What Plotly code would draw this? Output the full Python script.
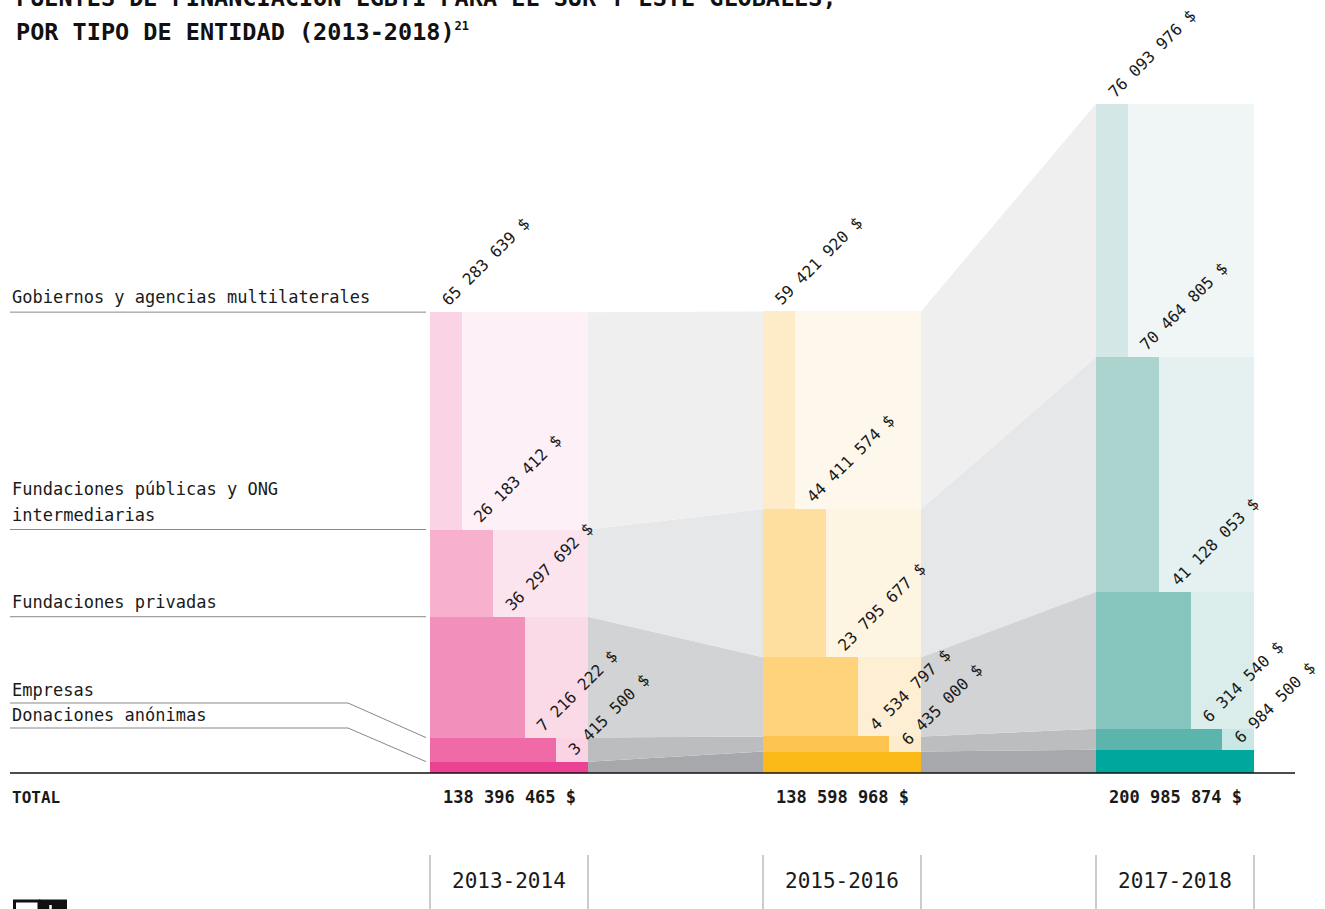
import plotly.graph_objects as go

# ---------------- data ----------------
periods = ["2013-2014", "2015-2016", "2017-2018"]
categories = [  # bottom -> top
    "Donaciones anónimas",
    "Empresas",
    "Fundaciones privadas",
    "Fundaciones públicas y ONG intermediarias",
    "Gobiernos y agencias multilaterales",
]
donaciones = [3415500, 6435000, 6984500]
empresas = [7216222, 4534797, 6314540]
fund_privadas = [36297692, 23795677, 41128053]
fund_publicas = [26183412, 44411574, 70464805]
gobiernos = [65283639, 59421920, 76093976]
totals = [138396465, 138598968, 200985874]
series = [donaciones, empresas, fund_privadas, fund_publicas, gobiernos]

# ---------------- styles ----------------
PAGE_W, PAGE_H = 1325, 909
OFF = 0  # body margin removed by post_script below
W, H = PAGE_W - OFF, PAGE_H - OFF
FONT = "DejaVu Sans Mono"
TXT = "#1a1a1a"
dark_cols = [
    ["#ec4293", "#ef6aa6", "#f38fbb", "#f7b1cf", "#fad3e4"],
    ["#fbb918", "#fdc44f", "#fed37c", "#fedf9f", "#feecc9"],
    ["#00a79d", "#5bb5ac", "#86c5bd", "#acd4cf", "#d3e8e6"],
]
light_cols = [
    ["#ec4293", "#fad4e5", "#fbdae8", "#fce4ef", "#fdf0f6"],
    ["#fbb918", "#fdeccb", "#feefd4", "#fef4e2", "#fef8ec"],
    ["#00a79d", "#c9e7e4", "#daedeb", "#e4f1f0", "#eff6f5"],
]
ribbon_cols = ["#a7a8ab", "#bcbdbf", "#d1d3d4", "#e6e7e8", "#efefef"]

# page-pixel <-> data helpers (layout only)
CX0, STEP = 509.0, 333.0
BASE_PX, K = 773.0, 3.33e-6  # px per dollar
BW = 158.0 / STEP


def px2x(p):
    return (p - CX0) / STEP


def py2y(p):
    return (BASE_PX - p) / K


def pxp(p):
    return (p - OFF) / W


def pyp(p):
    return 1 - (p - OFF) / H


xs = list(range(len(periods)))

# cumulative bases
bases = []
acc = [0] * len(periods)
for s in series:
    bases.append(acc[:])
    acc = [a + v for a, v in zip(acc, s)]
tops = [[b + v for b, v in zip(bases[i], series[i])] for i in range(len(series))]

fig = go.Figure()

# ribbons between bars
for ci in range(len(series)):
    for pi in range(len(periods) - 1):
        xr = xs[pi] + BW / 2
        xl = xs[pi + 1] - BW / 2
        fig.add_trace(go.Scatter(
            x=[xr, xr, xl, xl, xr],
            y=[bases[ci][pi], tops[ci][pi], tops[ci][pi + 1], bases[ci][pi + 1], bases[ci][pi]],
            fill="toself", fillcolor=ribbon_cols[ci], mode="lines",
            line=dict(width=0, color=ribbon_cols[ci]), hoverinfo="skip"))

# light (full width) bars and dark (partial width) bars
for ci in range(len(series)):
    fig.add_trace(go.Bar(
        x=xs, y=series[ci], base=bases[ci], width=BW, offset=-BW / 2,
        marker=dict(color=[light_cols[p][ci] for p in range(len(periods))], line=dict(width=0))))
    frac = (len(series) - ci) / len(series)
    fig.add_trace(go.Bar(
        x=xs, y=series[ci], base=bases[ci], width=BW * frac, offset=-BW / 2,
        marker=dict(color=[dark_cols[p][ci] for p in range(len(periods))], line=dict(width=0))))


def fmt(v):
    return f"{v:,}".replace(",", " ") + " $"


annotations = []
shapes = []

# value labels (rotated)
for ci in range(len(series)):
    frac = (len(series) - ci) / len(series)
    for pi in range(len(periods)):
        annotations.append(dict(
            x=xs[pi] - BW / 2 + BW * frac, y=tops[ci][pi], xref="x", yref="y",
            text=fmt(series[ci][pi]), showarrow=False, textangle=-45,
            xanchor="left", yanchor="bottom", xshift=-26, yshift=0,
            font=dict(family=FONT, size=16, color=TXT)))

# left category labels and leader lines
xl0 = px2x(10)
xl1 = px2x(426)
xmid = px2x(348)
lbl_font = dict(family=FONT, size=17, color=TXT)
for ci, lines in [(4, ["Gobiernos y agencias multilaterales"]),
                  (3, ["Fundaciones públicas y ONG", "intermediarias"]),
                  (2, ["Fundaciones privadas"])]:
    yv = tops[ci][0]
    shapes.append(dict(type="line", xref="x", yref="y", x0=xl0, x1=xl1, y0=yv, y1=yv,
                       line=dict(color="#888888", width=1)))
    for li, txt in enumerate(reversed(lines)):
        annotations.append(dict(x=xl0, y=yv, xref="x", yref="y", text=txt, showarrow=False,
                                xanchor="left", yanchor="bottom", yshift=3 + 26 * li,
                                align="left", font=lbl_font))
for ci, name, ypx in [(1, "Empresas", 703), (0, "Donaciones anónimas", 728)]:
    yv = py2y(ypx)
    shapes.append(dict(type="line", xref="x", yref="y", x0=xl0, x1=xmid, y0=yv, y1=yv,
                       line=dict(color="#888888", width=1)))
    shapes.append(dict(type="line", xref="x", yref="y", x0=xmid, x1=xl1, y0=yv, y1=tops[ci][0],
                       line=dict(color="#888888", width=1)))
    annotations.append(dict(x=xl0, y=yv, xref="x", yref="y", text=name, showarrow=False,
                            xanchor="left", yanchor="bottom", yshift=1, align="left",
                            font=lbl_font))

# baseline
shapes.append(dict(type="line", xref="x", yref="y", x0=px2x(10), x1=px2x(1295), y0=0, y1=0,
                   line=dict(color="#111111", width=1.3)))

# totals
annotations.append(dict(x=px2x(10), y=py2y(797), xref="x", yref="y", text="<b>TOTAL</b>",
                        showarrow=False, xanchor="left", yanchor="middle",
                        font=dict(family=FONT, size=16, color=TXT)))
for pi in range(len(periods)):
    annotations.append(dict(x=xs[pi], y=py2y(797), xref="x", yref="y",
                            text="<b>" + fmt(totals[pi]) + "</b>", showarrow=False,
                            xanchor="center", yanchor="middle",
                            font=dict(family=FONT, size=17, color=TXT)))
    annotations.append(dict(x=xs[pi], y=py2y(881), xref="x", yref="y", text=periods[pi],
                            showarrow=False, xanchor="center", yanchor="middle",
                            font=dict(family=FONT, size=21, color=TXT)))
    for side in (-1, 1):
        xe = xs[pi] + side * BW / 2
        shapes.append(dict(type="line", xref="x", yref="y", x0=xe, x1=xe,
                           y0=py2y(855), y1=py2y(912), line=dict(color="#999999", width=1)))

# title
annotations.append(dict(x=pxp(14), y=pyp(-2), xref="paper", yref="paper",
                        text="<b>FUENTES DE FINANCIACIÓN LGBTI PARA EL SUR Y ESTE GLOBALES,</b>",
                        showarrow=False, xanchor="left", yanchor="middle",
                        font=dict(family=FONT, size=23.5, color="#111111")))
annotations.append(dict(x=pxp(14), y=pyp(32), xref="paper", yref="paper",
                        text="<b>POR TIPO DE ENTIDAD (2013-2018)</b>"
                             "<sup><b><span style='font-size:12px'>21</span></b></sup>",
                        showarrow=False, xanchor="left", yanchor="middle",
                        font=dict(family=FONT, size=23.5, color="#111111")))

# logo fragment (bottom-left)
shapes.append(dict(type="rect", xref="paper", yref="paper", x0=pxp(14.5), x1=pxp(39),
                   y0=pyp(915), y1=pyp(901), line=dict(color="#111111", width=3),
                   fillcolor="white"))
shapes.append(dict(type="rect", xref="paper", yref="paper", x0=pxp(39), x1=pxp(67),
                   y0=pyp(915), y1=pyp(899.5), line=dict(width=0), fillcolor="#111111"))
shapes.append(dict(type="line", xref="paper", yref="paper", x0=pxp(50.5), x1=pxp(50.5),
                   y0=pyp(915), y1=pyp(905), line=dict(color="white", width=2.5)))

fig.update_layout(
    width=W, height=H, autosize=False,
    margin=dict(l=0, r=0, t=0, b=0, pad=0),
    paper_bgcolor="white", plot_bgcolor="white",
    barmode="overlay", bargap=0, showlegend=False,
    xaxis=dict(range=[px2x(OFF), px2x(PAGE_W)], visible=False, fixedrange=True),
    yaxis=dict(range=[py2y(PAGE_H), py2y(OFF)], visible=False, fixedrange=True),
    annotations=annotations, shapes=shapes,
)

fig.write_html("out.html",
               config={"displayModeBar": False, "staticPlot": True},
               post_script="document.body.style.margin='0';document.body.style.overflow='hidden';")
